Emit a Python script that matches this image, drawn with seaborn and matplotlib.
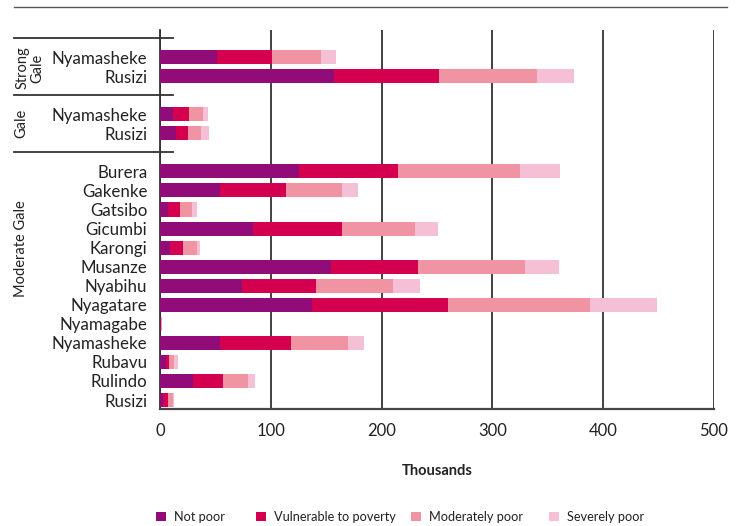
import matplotlib
matplotlib.use("Agg")
import matplotlib.pyplot as plt
import matplotlib.transforms as mtransforms
from matplotlib.patches import Patch
import numpy as np
import pandas as pd
import seaborn as sns

# ---- data (thousands) ----
groups = ["Strong Gale", "Strong Gale", "Gale", "Gale"] + ["Moderate Gale"] * 13
districts = ["Nyamasheke", "Rusizi", "Nyamasheke", "Rusizi",
             "Burera", "Gakenke", "Gatsibo", "Gicumbi", "Karongi", "Musanze",
             "Nyabihu", "Nyagatare", "Nyamagabe", "Nyamasheke", "Rubavu",
             "Rulindo", "Rusizi"]
not_poor = [51, 157, 12, 14, 125, 54, 7, 84, 9, 154, 74, 137, 1.0, 54, 5, 30, 3]
vulnerable = [50, 95, 14, 11, 90, 60, 11, 80, 12, 79, 67, 123, 0.3, 64, 3, 27, 4]
moderately_poor = [44, 88, 13, 12, 110, 50, 11, 66, 12, 96, 69, 128, 0.2, 52, 5, 22, 5]
severely_poor = [14, 34, 4, 7, 36, 15, 4, 21, 3, 31, 25, 61, 0.1, 14, 3, 7, 1]

series_names = ["Not poor", "Vulnerable to poverty", "Moderately poor", "Severely poor"]
colors = ["#910C79", "#D4004F", "#F093A2", "#F5C0D6"]
xticks = [0, 100, 200, 300, 400, 500]

plt.rcParams["font.family"] = ["Lato", "DejaVu Sans"]

keys = [f"{g}|{d}" for g, d in zip(groups, districts)]
df = pd.DataFrame({"key": keys, "district": districts,
                   "Not poor": not_poor, "Vulnerable to poverty": vulnerable,
                   "Moderately poor": moderately_poor, "Severely poor": severely_poor})
cum = df[series_names].cumsum(axis=1)

# order with empty slots between groups
order = keys[:2] + ["gap1"] + keys[2:4] + ["gap2"] + keys[4:]

fig = plt.figure(figsize=(7.37, 5.26), dpi=100)
ax = fig.add_axes([160/737, 1-409/526, (714-160)/737, (409-30)/526])

for name, col in reversed(list(zip(series_names, colors))):
    sns.barplot(x=cum[name], y=df["key"], order=order, orient="h", color=col,
                errorbar=None, width=0.74, linewidth=0, edgecolor="none",
                saturation=1, ax=ax, zorder=3)

ax.set_xlim(0, 500)
ax.set_ylim(18.47, -1.42)
ax.set_xticks(xticks)
ax.set_xticklabels([str(t) for t in xticks], fontsize=12, color="#222")
ticks = [i for i, k in enumerate(order) if not k.startswith("gap")]
ax.set_yticks(ticks)
ax.set_yticklabels([k.split("|")[1] for k in order if not k.startswith("gap")],
                   fontsize=12.2, color="#222")
ax.tick_params(axis="y", length=0, pad=9)
ax.tick_params(axis="x", length=0, pad=10)
ax.set_ylabel("")
ax.set_xlabel("Thousands", fontsize=10.5, fontweight="bold", color="#222", labelpad=18)
ax.xaxis.grid(True, color="#333333", linewidth=1.3, zorder=0)
ax.yaxis.grid(False)
ax.set_axisbelow(True)
for s in ["top", "right"]:
    ax.spines[s].set_visible(False)
ax.spines["left"].set_color("#333333")
ax.spines["left"].set_linewidth(1.3)
ax.spines["bottom"].set_color("#444444")
ax.spines["bottom"].set_linewidth(1.6)

# group separator lines
trans = mtransforms.blended_transform_factory(fig.transFigure, ax.transData)
for yy in [-1, 2, 5]:
    ax.plot([14/737, 173/737], [yy, yy], transform=trans, color="#333333",
            lw=1.3, clip_on=False, zorder=5)
# top rule
fig.add_artist(plt.Line2D([14/737, 727/737], [1-7/526, 1-7/526],
                          transform=fig.transFigure, color="#555555", lw=1))

# group labels
ax.text(30/737, 0.58, "Strong\nGale", transform=trans, rotation=90, ha="center",
        va="center", fontsize=10.5, color="#222", linespacing=1.05)
ax.text(21/737, 3.5, "Gale", transform=trans, rotation=90, ha="center",
        va="center", fontsize=10.5, color="#222")
ax.text(21/737, 10.05, "Moderate Gale", transform=trans, rotation=90, ha="center",
        va="center", fontsize=10.5, color="#222")

# legend entries placed individually
leg_x = [156, 256, 411, 549]
for name, col, lx in zip(series_names, colors, leg_x):
    lg = fig.legend([Patch(facecolor=col, edgecolor="none")], [name],
                    loc="center left", bbox_to_anchor=(lx/737, 1-517/526),
                    frameon=False, fontsize=9.2, handlelength=0.8, handleheight=0.8,
                    handletextpad=0.6, borderpad=0, borderaxespad=0, labelcolor="#222")

fig.savefig("out.png", dpi=100)
